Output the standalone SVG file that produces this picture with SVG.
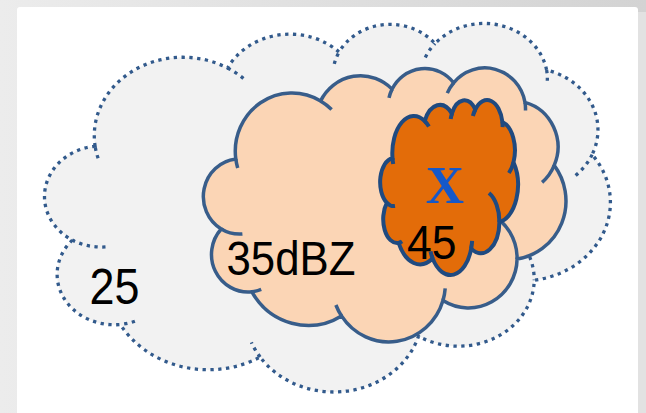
<svg xmlns="http://www.w3.org/2000/svg" width="646" height="413" viewBox="0 0 646 413">
  <defs>
    <linearGradient id="bg" x1="0" y1="0" x2="1" y2="0">
      <stop offset="0" stop-color="#ECECEC"/>
      <stop offset="1" stop-color="#D3D3D3"/>
    </linearGradient>
    <style>
      .outer { fill: #F2F2F2; stroke: #325A8C; stroke-width: 3.3; stroke-dasharray: 3.3 4.5; }
      .outer-tick { fill: none; stroke: #325A8C; stroke-width: 3.3; stroke-dasharray: 3.3 4.5; }
      .mid { fill: #FBD5B5; stroke: #385D8A; stroke-width: 3.5; }
      .mid-tick { fill: none; stroke: #385D8A; stroke-width: 3.5; }
      .core { fill: #E36C09; stroke: #1F4A80; stroke-width: 4; }
      .core-tick { fill: none; stroke: #1F4A80; stroke-width: 4; }
      .val { font-family: "Liberation Sans", Arial, sans-serif; fill: #000000; }
      .mark { font-family: "Liberation Serif", "Times New Roman", serif; fill: #1558C9; font-weight: bold; }
    </style>
  </defs>

  <!-- page background and card -->
  <rect x="0" y="0" width="646" height="413" fill="url(#bg)"/>
  <rect x="638" y="12" width="8" height="401" fill="#E2E2E2"/>
  <rect x="17" y="7" width="621" height="420" rx="3" fill="#FFFFFF"/>

  <!-- 25 dBZ region: dotted cloud -->
  <g id="cloud-25">
    <path class="outer" d="M95.1,146.2 A88.56,78.35 0 0 1 227.6,68.0 A69.93,61.96 0 0 1 339.1,52.1 A57.24,50.68 0 0 1 435.0,43.6 A63.69,56.23 0 0 1 546.6,70.0 A69.93,62.01 0 0 1 592.1,154.6 A88.84,78.61 0 0 1 534.2,280.2 A75.86,67.07 0 0 1 418.5,336.2 A88.54,78.56 0 0 1 260.1,357.0 A101.24,89.88 0 0 1 120.3,324.5 A57.17,50.45 0 0 1 72.3,240.1 A56.98,50.68 0 0 1 95.1,146.2 Z"/>
    <path class="outer-tick" d="M105.5,246.9 A56.98,50.68 0 0 1 72.3,240.1 M134.9,321.2 A57.17,50.45 0 0 1 120.3,324.5 M260.1,357.0 A88.54,78.56 0 0 1 251.4,342.3 M422.0,320.0 A88.54,78.56 0 0 1 418.5,336.2 M491.6,219.4 A75.86,67.07 0 0 1 534.2,280.2 M592.1,154.6 A69.93,62.01 0 0 1 573.1,177.4 M546.6,70.0 A63.69,56.23 0 0 1 547.3,80.8 M425.3,57.4 A63.69,56.23 0 0 1 435.0,43.6 M334.3,63.9 A57.24,50.68 0 0 1 339.1,52.1 M227.6,68.0 A88.56,78.35 0 0 1 244.7,79.5 M98.1,158.3 A88.56,78.35 0 0 1 95.1,146.2"/>
  </g>

  <!-- 35 dBZ region -->
  <g id="cloud-35">
    <path class="mid" d="M235.8,159.1 A56.74,58.29 0 0 1 320.6,100.9 A44.81,46.09 0 0 1 392.1,89.1 A36.68,37.71 0 0 1 453.6,82.8 A40.81,41.83 0 0 1 525.0,102.4 A44.81,46.13 0 0 1 554.2,165.4 A56.93,58.48 0 0 1 517.1,258.9 A48.61,49.90 0 0 1 443.0,300.5 A56.74,58.45 0 0 1 341.5,315.9 A64.87,66.87 0 0 1 251.9,291.8 A36.64,37.54 0 0 1 221.2,229.0 A36.51,37.71 0 0 1 235.8,159.1 Z"/>
    <path class="mid-tick" d="M242.4,234.0 A36.51,37.71 0 0 1 221.2,229.0 M261.2,289.4 A36.64,37.54 0 0 1 251.9,291.8 M341.5,315.9 A56.74,58.45 0 0 1 335.9,305.0 M445.2,288.4 A56.74,58.45 0 0 1 443.0,300.5 M489.8,213.6 A48.61,49.90 0 0 1 517.1,258.9 M554.2,165.4 A44.81,46.13 0 0 1 542.1,182.4 M525.0,102.4 A40.81,41.83 0 0 1 525.5,110.5 M447.3,93.1 A40.81,41.83 0 0 1 453.6,82.8 M389.0,97.9 A36.68,37.71 0 0 1 392.1,89.1 M320.6,100.9 A56.74,58.29 0 0 1 331.6,109.5 M237.7,168.1 A56.74,58.29 0 0 1 235.8,159.1"/>
  </g>

  <!-- 45 dBZ core -->
  <g id="cloud-45">
    <path class="core" d="M392.5,158.2 A21.57,37.23 0 0 1 424.7,121.0 A17.04,29.44 0 0 1 451.9,113.5 A13.94,24.08 0 0 1 475.3,109.5 A15.52,26.72 0 0 1 502.4,122.0 A17.04,29.46 0 0 1 513.5,162.2 A21.64,37.35 0 0 1 499.4,221.9 A18.48,31.87 0 0 1 471.2,248.5 A21.57,37.33 0 0 1 432.6,258.4 A24.66,42.71 0 0 1 398.6,242.9 A13.93,23.97 0 0 1 386.9,202.8 A13.88,24.08 0 0 1 392.5,158.2 Z"/>
    <path class="core-tick" d="M395.0,206.0 A13.88,24.08 0 0 1 386.9,202.8 M402.1,241.4 A13.93,23.97 0 0 1 398.6,242.9 M432.6,258.4 A21.57,37.33 0 0 1 430.5,251.4 M472.1,240.8 A21.57,37.33 0 0 1 471.2,248.5 M489.0,193.0 A18.48,31.87 0 0 1 499.4,221.9 M513.5,162.2 A17.04,29.46 0 0 1 508.9,173.0 M502.4,122.0 A15.52,26.72 0 0 1 502.6,127.1 M472.9,116.0 A15.52,26.72 0 0 1 475.3,109.5 M450.7,119.1 A13.94,24.08 0 0 1 451.9,113.5 M424.7,121.0 A21.57,37.23 0 0 1 428.9,126.5 M393.2,164.0 A21.57,37.23 0 0 1 392.5,158.2"/>
  </g>

  <!-- labels -->
  <g id="labels">
    <text class="val" x="89.5" y="304" font-size="50" textLength="50" lengthAdjust="spacingAndGlyphs">25</text>
    <text class="val" x="226.5" y="275" font-size="49" textLength="129" lengthAdjust="spacingAndGlyphs">35dBZ</text>
    <text class="val" x="407" y="258.5" font-size="47.5" textLength="49.5" lengthAdjust="spacingAndGlyphs">45</text>
    <text class="mark" x="445" y="203" font-size="53" text-anchor="middle">X</text>
  </g>
</svg>
